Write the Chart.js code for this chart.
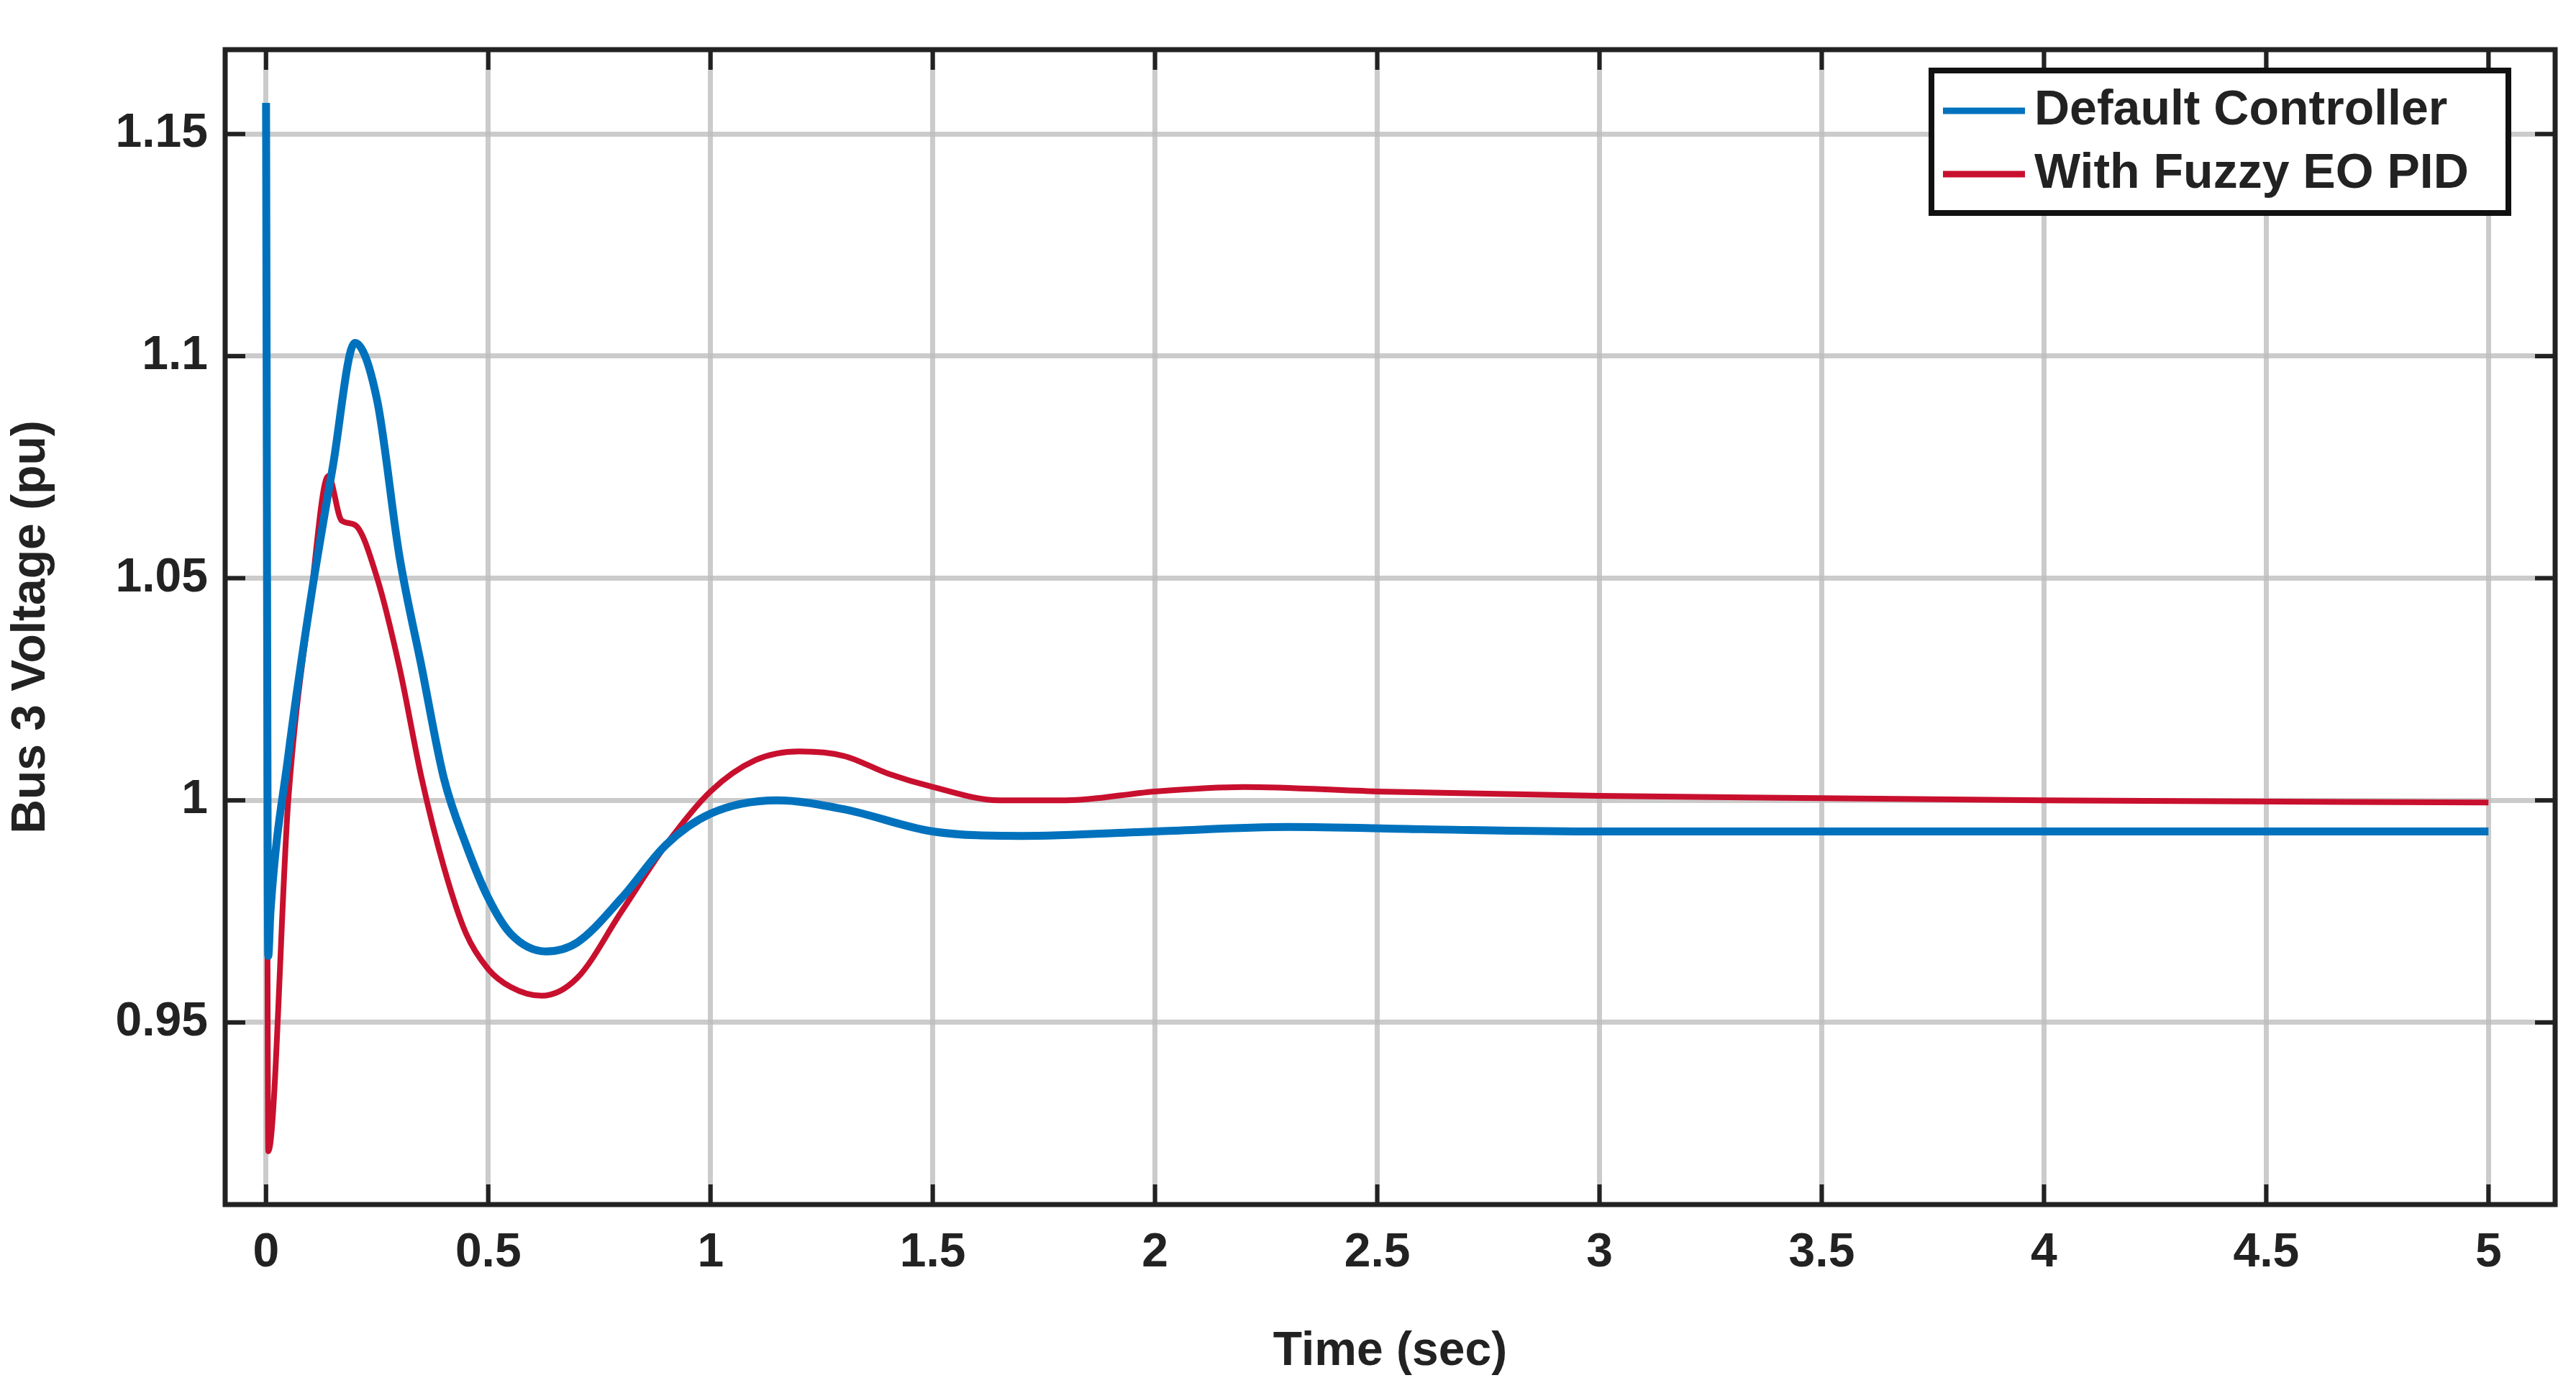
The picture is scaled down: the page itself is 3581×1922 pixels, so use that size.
<!DOCTYPE html>
<html>
<head>
<meta charset="utf-8">
<script src="https://cdn.jsdelivr.net/npm/chart.js@4/dist/chart.umd.min.js"></script>
<style>html,body{margin:0;padding:0;background:#fff;overflow:hidden}</style>
</head>
<body>
<canvas id="myChart" width="3581" height="1922"></canvas>
<script>
xTicks = [0, 0.5, 1, 1.5, 2, 2.5, 3, 3.5, 4, 4.5, 5];
yTicks = [0.95, 1, 1.05, 1.1, 1.15];

timeDefault = [0, 0.005, 0.01, 0.05, 0.1, 0.15, 0.2, 0.25, 0.3, 0.35, 0.4, 0.45, 0.5, 0.55, 0.63, 0.7, 0.8, 0.9, 1.0, 1.15, 1.3, 1.5, 1.7, 2.0, 2.3, 2.6, 3, 3.5, 4, 4.5, 5];
voltDefault = [1.157, 0.965, 0.975, 1.01, 1.045, 1.075, 1.103, 1.09, 1.055, 1.03, 1.005, 0.99, 0.978, 0.97, 0.966, 0.968, 0.978, 0.99, 0.997, 1.0, 0.998, 0.993, 0.992, 0.993, 0.994, 0.9935, 0.993, 0.993, 0.993, 0.993, 0.993];

timeFuzzy = [0, 0.005, 0.05, 0.1, 0.14, 0.17, 0.2, 0.25, 0.3, 0.35, 0.4, 0.45, 0.5, 0.55, 0.62, 0.7, 0.8, 0.9, 1.0, 1.1, 1.2, 1.3, 1.4, 1.5, 1.65, 1.8, 2.0, 2.2, 2.5, 3, 3.5, 4, 5];
voltFuzzy = [1.157, 0.921, 1.0, 1.045, 1.073, 1.063, 1.062, 1.05, 1.03, 1.005, 0.985, 0.97, 0.962, 0.958, 0.956, 0.96, 0.975, 0.99, 1.002, 1.009, 1.011, 1.01, 1.006, 1.003, 1.0, 1.0, 1.002, 1.003, 1.002, 1.001, 1.0005, 1.0, 0.9995];

function pts(t, v) {
    return t.map(function (x, i) { return {x: x, y: v[i]}; });
}

var font = "'Liberation Sans', Arial, sans-serif";

// inward ticks, frame and legend like the MATLAB figure
var decor = {
    id: 'decor',
    afterDraw: function (chart) {
        var c = chart.ctx, a = chart.chartArea, sx = chart.scales.x, sy = chart.scales.y;
        c.save();
        c.strokeStyle = '#222';
        c.lineWidth = 6;
        xTicks.forEach(function (t) {
            var px = sx.getPixelForValue(t);
            c.beginPath(); c.moveTo(px, a.bottom); c.lineTo(px, a.bottom - 28);
            c.moveTo(px, a.top); c.lineTo(px, a.top + 28); c.stroke();
        });
        yTicks.forEach(function (t) {
            var py = sy.getPixelForValue(t);
            c.beginPath(); c.moveTo(a.left, py); c.lineTo(a.left + 28, py);
            c.moveTo(a.right, py); c.lineTo(a.right - 28, py); c.stroke();
        });
        c.lineWidth = 7;
        c.strokeRect(a.left, a.top, a.right - a.left, a.bottom - a.top);

        // legend
        var lx = 2685, ly = 98, lw = 802, lh = 198;
        c.fillStyle = '#fff';
        c.fillRect(lx, ly, lw, lh);
        c.lineWidth = 8;
        c.strokeStyle = '#111';
        c.strokeRect(lx, ly, lw, lh);
        var items = [['Default Controller', '#0072BD'], ['With Fuzzy EO PID', '#C8102E']];
        c.font = 'bold 68px ' + font;
        c.textBaseline = 'middle';
        items.forEach(function (it, i) {
            var yy = ly + 56 + i * 88;
            c.strokeStyle = it[1];
            c.lineWidth = 9;
            c.beginPath(); c.moveTo(lx + 16, yy); c.lineTo(lx + 130, yy); c.stroke();
            c.fillStyle = '#222';
            c.fillText(it[0], lx + 143, yy);
        });
        c.restore();
    }
};

function renderChart() {
    var ctx = document.getElementById("myChart").getContext('2d');
    var myChart = new Chart(ctx, {
        type: 'line',
        data: {
            datasets: [{
                    label: 'Default Controller',
                    data: pts(timeDefault, voltDefault),
                    borderColor: '#0072BD',
                    borderWidth: 11,
                    pointRadius: 0,
                    cubicInterpolationMode: 'monotone'
                },
                {
                    label: 'With Fuzzy EO PID',
                    data: pts(timeFuzzy, voltFuzzy),
                    borderColor: '#C8102E',
                    borderWidth: 8,
                    pointRadius: 0,
                    cubicInterpolationMode: 'monotone'
                },
            ]
        },
        options: {
            responsive: false,
            animation: false,
            devicePixelRatio: 1,
            layout: {padding: {top: 69, right: 29, left: 0, bottom: 0}},
            plugins: {legend: {display: false}, tooltip: {enabled: false}},
            scales: {
                x: {
                    type: 'linear', min: -0.092, max: 5.15,
                    afterBuildTicks: function (s) { s.ticks = xTicks.map(function (v) { return {value: v}; }); },
                    afterFit: function (s) { s.height = 248; },
                    grid: {color: 'rgba(190,190,190,0.8)', lineWidth: 7, drawTicks: false},
                    border: {display: false},
                    ticks: {color: '#222', padding: 28, font: {size: 66, weight: 'bold', family: font}, maxRotation: 0,
                        callback: function (v) { return String(v); }},
                    title: {display: true, text: 'Time (sec)', color: '#222', padding: {top: 50}, font: {size: 66, weight: 'bold', family: font}}
                },
                y: {
                    min: 0.909, max: 1.169,
                    afterBuildTicks: function (s) { s.ticks = yTicks.map(function (v) { return {value: v}; }); },
                    afterFit: function (s) { s.width = 313; },
                    grid: {color: 'rgba(190,190,190,0.8)', lineWidth: 7, drawTicks: false},
                    border: {display: false},
                    ticks: {color: '#222', padding: 24, font: {size: 66, weight: 'bold', family: font},
                        callback: function (v) { return String(v); }},
                    title: {display: true, text: 'Bus 3 Voltage (pu)', color: '#222', padding: {bottom: 0}, font: {size: 66, weight: 'bold', family: font}}
                }
            }
        },
        plugins: [decor]
    });
}

renderChart();
</script>
</body>
</html>
